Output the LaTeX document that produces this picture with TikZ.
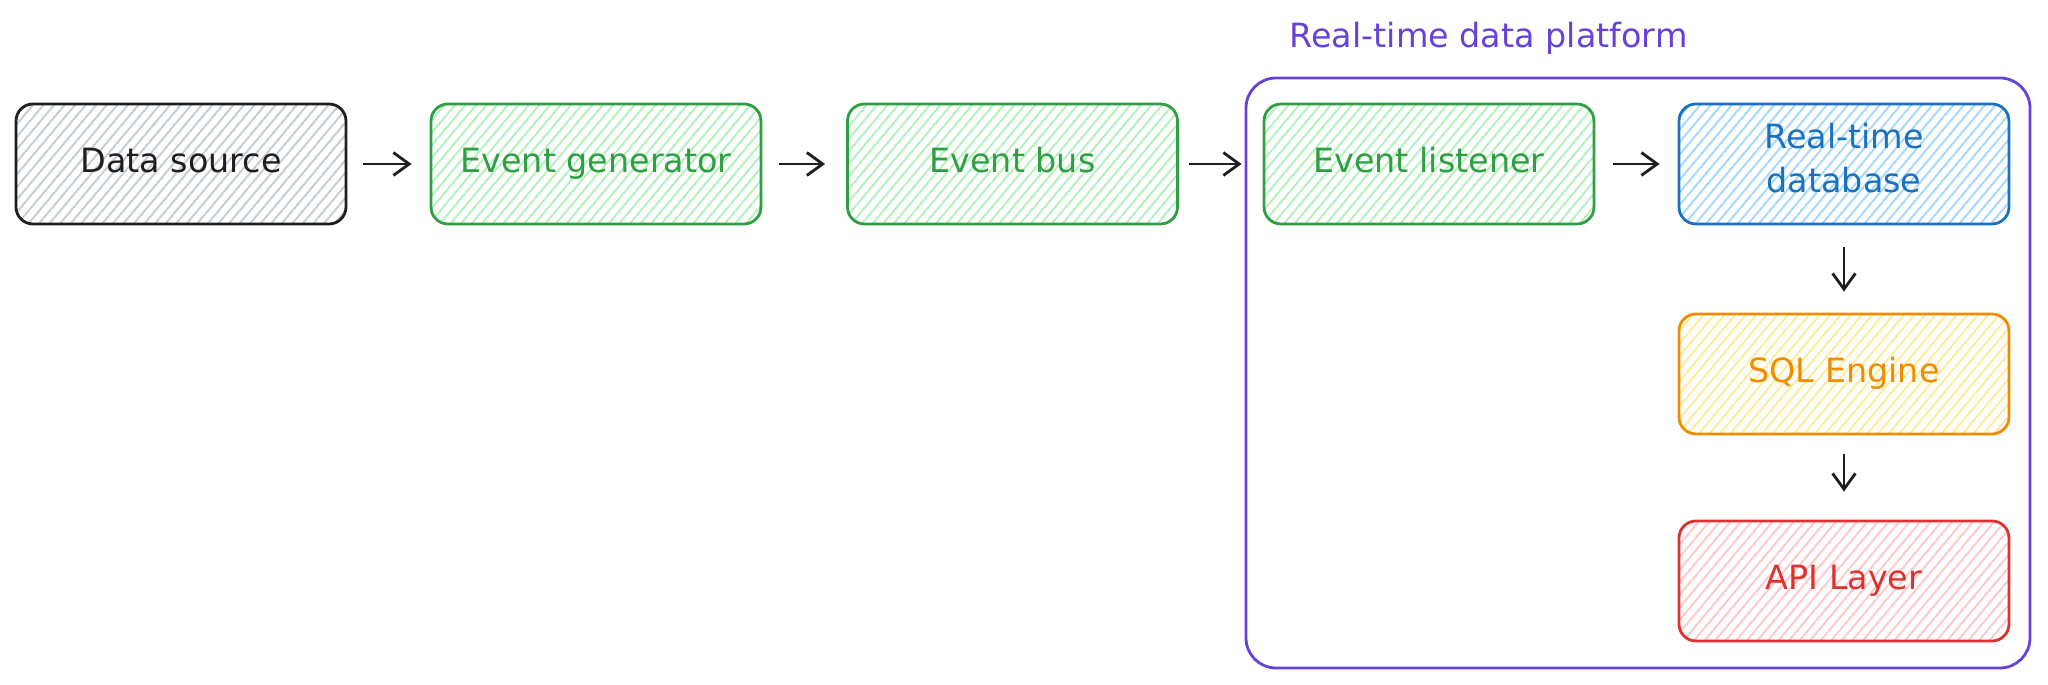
\documentclass[tikz,border=0pt]{standalone}
\usepackage{fontspec}
\setmainfont{DejaVu Sans}
\usepackage{tikz}
\usetikzlibrary{positioning}
\usetikzlibrary{patterns.meta}
\usetikzlibrary{arrows.meta}
\definecolor{inkblack}{HTML}{1E1E1E}
\definecolor{leafgreen}{HTML}{2F9E44}
\definecolor{mintgreen}{HTML}{B2F2BB}
\definecolor{oceanblue}{HTML}{1971C2}
\definecolor{skyblue}{HTML}{A5D8FF}
\definecolor{tangerine}{HTML}{F08C00}
\definecolor{lemon}{HTML}{FFEC99}
\definecolor{scarlet}{HTML}{E03131}
\definecolor{blush}{HTML}{FFC9C9}
\definecolor{pebble}{HTML}{C5CCD4}
\definecolor{royalviolet}{HTML}{6741D9}
\begin{document}
\begin{tikzpicture}[
    >={Straight Barb[length=4.5pt,width=6.5pt]},
    blockbox/.style 2 args={draw=#1, text=#1, pattern color=#2,
        pattern={Lines[angle=50,distance=2.3pt,line width=0.55pt]},
        rounded corners=0.17cm, line width=0.8pt,
        minimum width=3.3cm, minimum height=1.2cm, align=center,
        execute at begin node=\strut,
        font=\fontsize{9.5}{12.5}\selectfont},
    flowarrow/.style={->, line width=0.8pt, color=inkblack}
]
\useasboundingbox (0,0) rectangle (20.48,-6.85);
%
\node[blockbox={inkblack}{pebble}](src_box) at (1.81,-1.64) {Data source};
\node[blockbox={leafgreen}{mintgreen}](gen_box) at (5.96,-1.64) {Event generator};
\node[blockbox={leafgreen}{mintgreen}](bus_box) at (10.125,-1.64) {Event bus};

%
\node[draw=royalviolet, rounded corners=0.3cm, line width=0.8pt,
    minimum width=7.84cm, minimum height=5.9cm](platform_box) at (16.38,-3.73) {};
\node[anchor=base west, inner sep=0pt, text=royalviolet,
    font=\fontsize{9.5}{12.5}\selectfont](platform_label) at (12.89,-0.48) {Real-time data platform};

%
\node[blockbox={leafgreen}{mintgreen}](listen_box) at (14.29,-1.64) {Event listener};
\node[blockbox={oceanblue}{skyblue}](db_box) at (18.44,-1.64) {Real-time\\database};
\node[blockbox={tangerine}{lemon}](sql_box) at (18.44,-3.74) {SQL Engine};
\node[blockbox={scarlet}{blush}](api_box) at (18.44,-5.81) {API Layer};

%
\draw[flowarrow, shorten <=0.16cm, shorten >=0.18cm] (src_box) -- (gen_box);
\draw[flowarrow, shorten <=0.17cm, shorten >=0.21cm] (gen_box) -- (bus_box);
\draw[flowarrow, shorten <=0.10cm, shorten >=0.03cm] (bus_box.east) -- (bus_box.east -| platform_box.west);
\draw[flowarrow, shorten <=0.18cm, shorten >=0.18cm] (listen_box) -- (db_box);
\draw[flowarrow, shorten <=0.22cm, shorten >=0.21cm] (db_box) -- (sql_box);
\draw[flowarrow, shorten <=0.19cm, shorten >=0.28cm] (sql_box) -- (api_box);

\end{tikzpicture}
\end{document}
